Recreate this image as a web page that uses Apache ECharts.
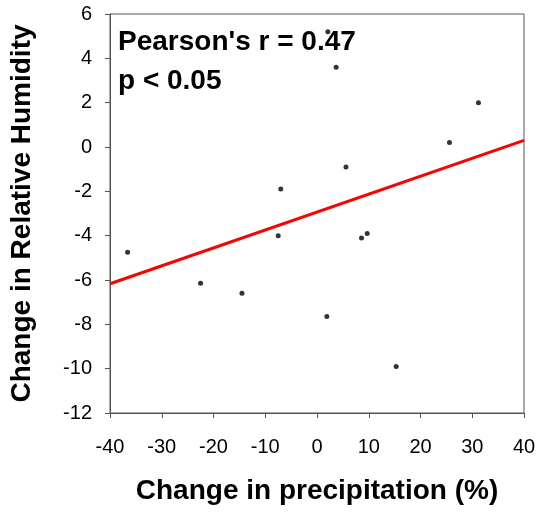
<!DOCTYPE html>
<html>
<head>
<meta charset="utf-8">
<script src="https://cdn.jsdelivr.net/npm/echarts@6/dist/echarts.min.js"></script>
<style>
  html, body { margin: 0; padding: 0; background: #fff; }
  #chart { width: 539px; height: 512px; }
</style>
</head>
<body>
<div id="chart"></div>
<script>
// precipitation change (%) vs relative humidity change
var precip = [2.1, 3.7, 31.2, 25.6, 5.6, -7.0, -36.6, -7.5, 8.6, 9.7, -22.5, -14.5, 1.9, 15.3];
var humidity = [5.2, 3.6, 2.0, 0.2, -0.9, -1.9, -4.75, -4.0, -4.1, -3.9, -6.15, -6.6, -7.65, -9.9];
// regression line end points
var fitX = [-40, 40];
var fitY = [-6.17, 0.3];

var chart = echarts.init(document.getElementById('chart'));

var pts = [];
for (var i = 0; i < precip.length; i++) {
    pts.push([precip[i], humidity[i]]);
}
var fit = [];
for (var j = 0; j < fitX.length; j++) {
    fit.push([fitX[j], fitY[j]]);
}

var font = 'Liberation Sans, Arial, sans-serif';
var axisColor = '#555';

var option = {
    animation: false,
    grid: {
        left: 110,
        right: 15,
        top: 14,
        bottom: 99,
        show: true,
        borderColor: axisColor,
        borderWidth: 1
    },
    xAxis: {
        type: 'value',
        min: -40,
        max: 40,
        interval: 10,
        name: 'Change in precipitation (%)',
        nameLocation: 'middle',
        nameGap: 64,
        nameTextStyle: { fontFamily: font, fontWeight: 'bold', fontSize: 28, color: '#000' },
        axisLine: { onZero: false, lineStyle: { color: axisColor } },
        axisTick: { inside: false, length: 5, lineStyle: { color: axisColor } },
        axisLabel: { fontFamily: font, fontSize: 20, color: '#000', margin: 24 },
        splitLine: { show: false }
    },
    yAxis: {
        type: 'value',
        min: -12,
        max: 6,
        interval: 2,
        name: 'Change in Relative Humidity',
        nameLocation: 'middle',
        nameGap: 74,
        nameTextStyle: { fontFamily: font, fontWeight: 'bold', fontSize: 28, color: '#000' },
        axisLine: { onZero: false, lineStyle: { color: axisColor } },
        axisTick: { inside: false, length: 5, lineStyle: { color: axisColor } },
        axisLabel: { fontFamily: font, fontSize: 20, color: '#000', margin: 18 },
        splitLine: { show: false }
    },
    graphic: [
        {
            type: 'text',
            left: 118,
            top: 28,
            style: { text: "Pearson's r = 0.47", font: 'bold 28px ' + font, fill: '#000' }
        },
        {
            type: 'text',
            left: 118,
            top: 67,
            style: { text: 'p < 0.05', font: 'bold 28px ' + font, fill: '#000' }
        }
    ],
    series: [
        {
            type: 'line',
            data: fit,
            symbol: 'none',
            lineStyle: { color: '#ff0000', width: 3 },
            z: 2
        },
        {
            type: 'scatter',
            data: pts,
            symbol: 'circle',
            symbolSize: 5,
            itemStyle: { color: '#000' },
            z: 3
        }
    ]
};

chart.setOption(option);
</script>
</body>
</html>
